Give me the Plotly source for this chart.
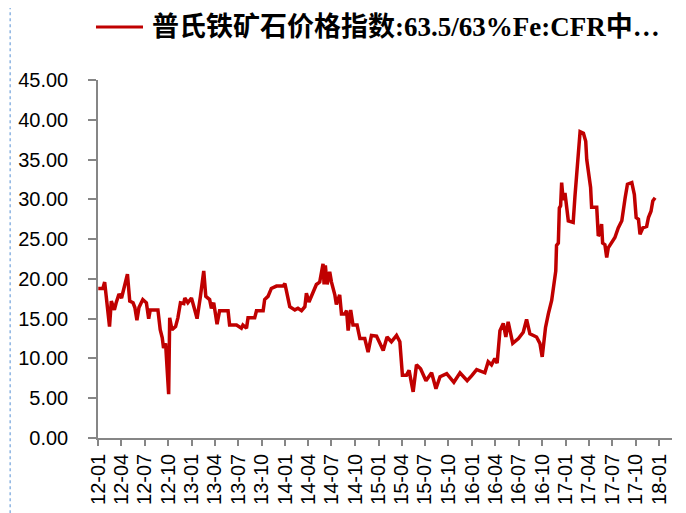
import plotly.graph_objects as go

# 普氏铁矿石价格指数 readings (date, value)
dates = [
    "2012-01-02", "2012-01-20", "2012-01-27", "2012-02-15", "2012-02-22", "2012-03-05",
    "2012-03-12", "2012-03-23", "2012-04-02", "2012-04-08", "2012-04-25", "2012-05-04",
    "2012-05-17", "2012-05-24", "2012-06-01", "2012-06-09", "2012-06-24", "2012-07-08",
    "2012-07-17", "2012-07-23", "2012-08-22", "2012-08-31", "2012-09-08", "2012-09-13",
    "2012-09-21", "2012-10-03", "2012-10-07", "2012-10-16", "2012-10-30", "2012-11-08",
    "2012-11-18", "2012-12-01", "2012-12-05", "2012-12-17", "2012-12-31", "2013-01-13",
    "2013-01-22", "2013-02-04", "2013-02-17", "2013-02-25", "2013-03-12", "2013-03-19",
    "2013-03-28", "2013-04-10", "2013-04-20", "2013-05-23", "2013-05-29", "2013-06-25",
    "2013-07-14", "2013-07-20", "2013-08-03", "2013-08-09", "2013-09-04", "2013-09-11",
    "2013-10-07", "2013-10-13", "2013-10-26", "2013-11-08", "2013-11-28", "2013-12-24",
    "2013-12-31", "2014-01-19", "2014-02-08", "2014-02-20", "2014-03-06", "2014-03-19",
    "2014-03-25", "2014-04-04", "2014-04-18", "2014-05-03", "2014-05-16", "2014-05-29",
    "2014-06-02", "2014-06-07", "2014-06-14", "2014-06-24", "2014-07-01", "2014-07-14",
    "2014-07-20", "2014-08-02", "2014-08-09", "2014-08-22", "2014-08-29", "2014-09-04",
    "2014-09-14", "2014-09-23", "2014-10-09", "2014-10-20", "2014-11-08", "2014-11-21",
    "2014-12-04", "2014-12-24", "2015-01-06", "2015-01-19", "2015-02-03", "2015-02-20",
    "2015-03-12", "2015-03-25", "2015-04-04", "2015-04-20", "2015-04-30", "2015-05-16",
    "2015-05-29", "2015-06-14", "2015-07-05", "2015-07-27", "2015-08-13", "2015-08-29",
    "2015-09-24", "2015-10-22", "2015-11-15", "2015-12-13", "2015-12-30", "2016-01-19",
    "2016-02-20", "2016-03-04", "2016-03-17", "2016-03-30", "2016-04-08", "2016-04-19",
    "2016-05-02", "2016-05-12", "2016-05-21", "2016-06-08", "2016-06-30", "2016-07-19",
    "2016-08-01", "2016-08-14", "2016-09-09", "2016-09-22", "2016-10-01", "2016-10-14",
    "2016-10-25", "2016-11-07", "2016-11-23", "2016-11-26", "2016-12-03", "2016-12-07",
    "2016-12-12", "2016-12-16", "2016-12-22", "2016-12-29", "2017-01-11", "2017-01-30",
    "2017-02-06", "2017-02-13", "2017-02-26", "2017-03-11", "2017-03-20", "2017-03-24",
    "2017-04-02", "2017-04-08", "2017-04-12", "2017-05-02", "2017-05-08", "2017-05-15",
    "2017-05-21", "2017-05-25", "2017-06-03", "2017-06-10", "2017-06-16", "2017-07-06",
    "2017-07-12", "2017-07-25", "2017-08-08", "2017-08-21", "2017-08-30", "2017-09-16",
    "2017-09-26", "2017-10-03", "2017-10-12", "2017-10-18", "2017-10-29", "2017-11-13",
    "2017-11-20", "2017-11-30", "2017-12-07", "2017-12-16",
]
values = [
    18.8, 18.8, 19.6, 14.0, 17.2, 16.1,
    17.0, 18.1, 17.6, 18.4, 20.6, 17.2,
    17.0, 16.4, 14.8, 16.4, 17.4, 17.0,
    15.0, 16.1, 16.1, 13.6, 12.6, 11.3,
    11.9, 5.5, 15.1, 13.6, 14.0, 15.1,
    17.0, 16.9, 17.6, 17.0, 17.6, 16.1,
    15.0, 17.8, 21.0, 17.8, 17.4, 16.3,
    17.0, 14.3, 16.0, 16.0, 14.2, 14.2,
    13.8, 14.2, 13.8, 15.1, 15.1, 16.0,
    16.0, 17.4, 17.8, 18.8, 19.1, 19.1,
    19.4, 16.5, 16.1, 16.3, 16.0, 16.5,
    18.2, 17.1, 18.3, 19.3, 19.6, 21.9,
    19.3, 21.7, 19.3, 20.9, 19.6, 18.0,
    16.8, 18.0, 15.6, 15.6, 16.0, 13.5,
    16.1, 14.2, 14.2, 12.5, 12.5, 10.8,
    12.9, 12.8, 11.9, 11.0, 12.7, 12.1,
    12.9, 12.1, 7.9, 7.9, 8.5, 5.8,
    9.2, 8.7, 7.2, 8.2, 6.2, 7.7,
    8.1, 7.0, 8.2, 7.2, 7.8, 8.6,
    8.2, 9.6, 9.2, 10.0, 9.4, 13.5,
    14.4, 12.7, 14.6, 11.9, 12.5, 13.3,
    14.9, 13.1, 12.7, 11.9, 10.2, 13.9,
    15.6, 17.3, 21.0, 24.2, 24.5, 28.9,
    29.2, 32.1, 29.9, 30.8, 27.3, 27.1,
    30.4, 33.7, 38.5, 38.3, 37.3, 35.0,
    32.3, 31.5, 29.0, 29.0, 25.4, 25.7,
    26.9, 24.5, 24.3, 22.7, 23.9, 24.8,
    25.2, 26.4, 27.3, 30.2, 31.9, 32.1,
    30.6, 27.7, 27.5, 25.6, 26.4, 26.6,
    27.7, 28.5, 29.8, 30.2,
]
series_name = "普氏铁矿石价格指数:63.5/63%Fe:CFR中…"
y_ticks = [0, 5, 10, 15, 20, 25, 30, 35, 40, 45]

RED = "#C00000"
AXIS = "#868686"
TICK_FONT = dict(family="Liberation Sans, Arial, sans-serif", size=20, color="#000000")

fig = go.Figure()
fig.add_trace(go.Scatter(
    x=dates, y=values, mode="lines", name=series_name,
    line=dict(color=RED, width=3.5), showlegend=False,
))

# hand-drawn legend entry (longer sample line than plotly's)
fig.add_shape(type="line", xref="paper", yref="paper",
              x0=-0.0035, x1=0.0784, y0=1.148, y1=1.148,
              line=dict(color=RED, width=3))
fig.add_annotation(text=f"<b>{series_name}</b>", xref="paper", yref="paper",
                   x=0.0906, y=1.148, xanchor="left", yanchor="middle", showarrow=False,
                   font=dict(family="Liberation Serif, Noto Sans CJK SC, serif", size=27, color="#000000"))

# dotted frame edge on the far left (as close to the page edge as the svg allows)
fig.add_shape(type="line", xref="paper", yref="paper",
              x0=-0.153, x1=-0.153, y0=-0.21, y1=1.225,
              line=dict(color="#8DB4E2", width=1.5, dash="dot"))

# page body adds an 8px offset, so the figure is 8px smaller and margins shifted
fig.update_layout(
    width=678, height=505,
    margin=dict(l=90, r=14, t=72, b=75),
    plot_bgcolor="white", paper_bgcolor="white",
    showlegend=False,
)
fig.update_xaxes(
    type="date", range=["2012-01-01", "2018-02-20"],
    tick0="2012-01-01", dtick="M3", tickformat="%y-%m", tickangle=-90,
    showgrid=False, zeroline=False, automargin=False,
    showline=True, linecolor=AXIS, linewidth=1.5,
    ticks="outside", ticklen=6, tickcolor=AXIS, tickwidth=1.5,
    tickfont=TICK_FONT,
)
fig.update_yaxes(
    range=[0, 45], tickvals=y_ticks, ticktext=[f"{v:.2f}" for v in y_ticks],
    showgrid=False, zeroline=False, automargin=False,
    showline=True, linecolor=AXIS, linewidth=1.5,
    ticks="outside", ticklen=8, tickcolor=AXIS, tickwidth=1.5,
    tickfont=TICK_FONT, ticklabelstandoff=16,
)

fig.write_html("out.html")
